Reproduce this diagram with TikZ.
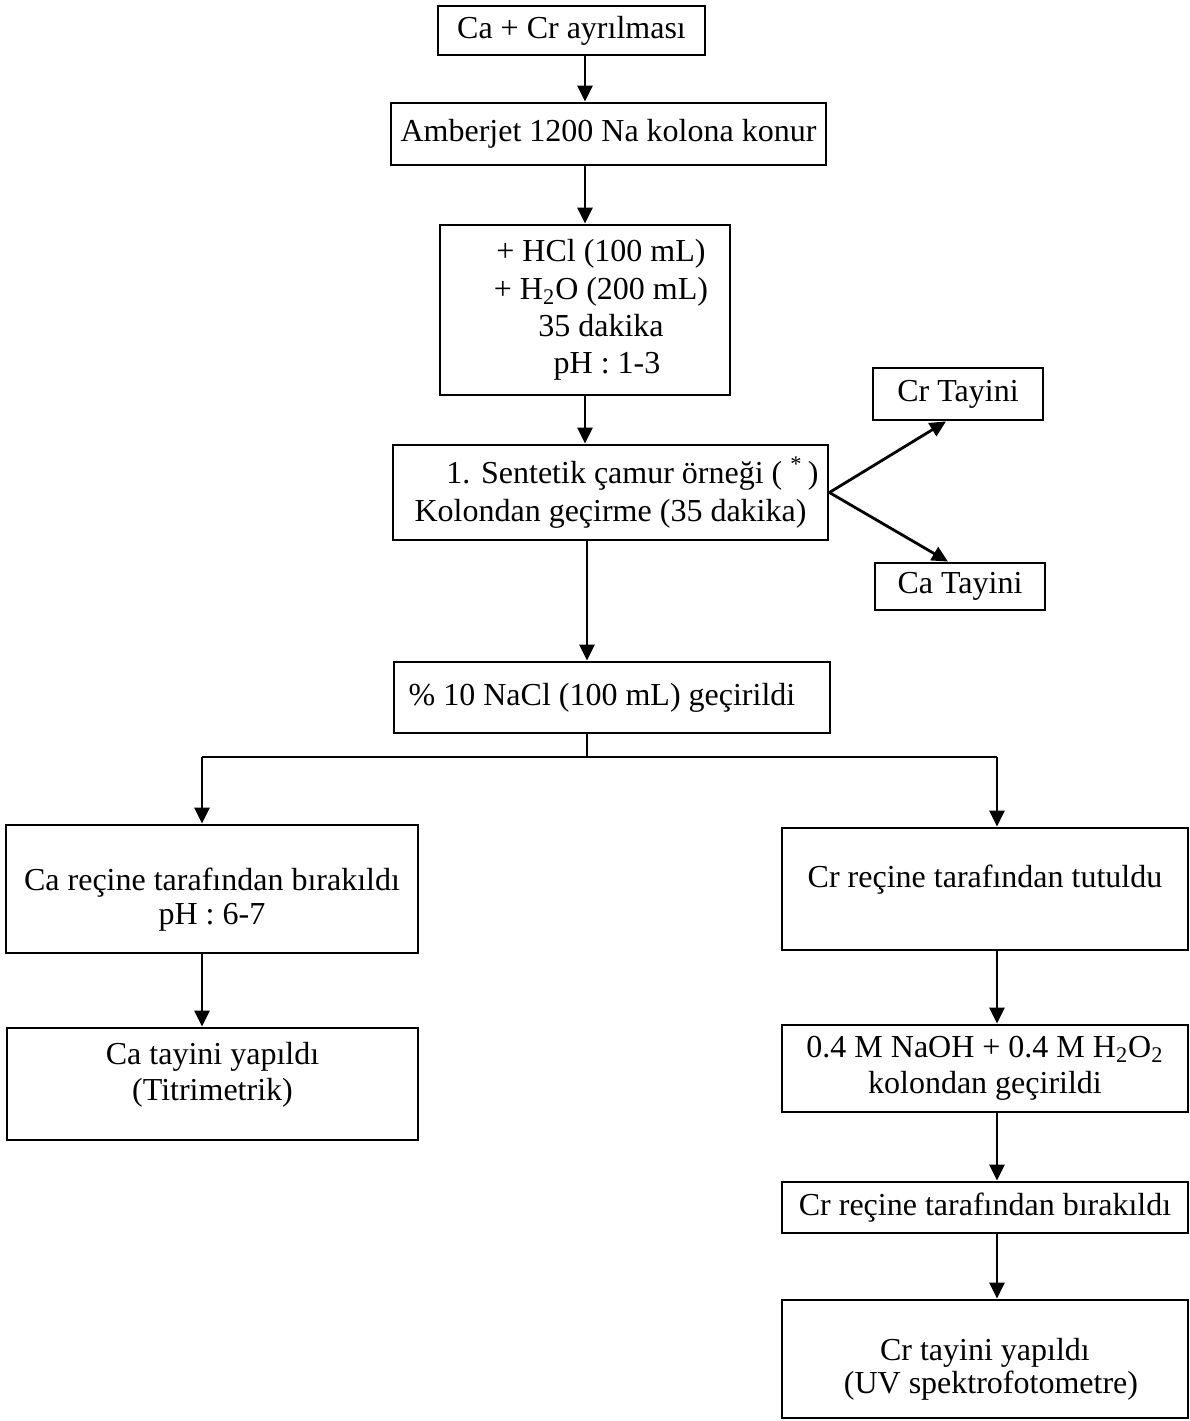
\documentclass[tikz,border=0pt]{standalone}
\usepackage{fontspec}
\setmainfont{Liberation Serif}
\usetikzlibrary{arrows.meta}

\begin{document}
\begin{tikzpicture}[x=0.5pt, y=-0.5pt,
  box/.style={draw, line width=1.4pt, align=center, inner sep=0pt,
    font=\fontsize{16}{18}\selectfont},
  arr/.style={line width=1.4pt, -{Triangle[length=8pt, width=7.5pt]}}]
\useasboundingbox (0,0) rectangle (1190,1421);

% main column
\node[box, minimum width=133.5pt, minimum height=24.5pt] (sep) at (571.5,30.5) {Ca + Cr ayrılması};
\node[box, minimum width=217.5pt, minimum height=31pt] (amb) at (608.5,134) {Amberjet 1200 Na kolona konur};
\node[box, minimum width=145pt, minimum height=85pt, font=\fontsize{16}{18.7}\selectfont] (hcl) at (585,310)
  {\hspace*{16pt}+ HCl (100 mL)\\\hspace*{16pt}+ H\textsubscript{2}O (200 mL)\\\hspace*{16pt}35 dakika\\\hspace*{22pt}pH : 1-3};
\node[box, minimum width=217.5pt, minimum height=47.5pt, font=\fontsize{16}{19}\selectfont] (sample) at (610.5,492.5)
  {\hspace*{22pt}1. Sentetik çamur örneği ( \textsuperscript{*}\,)\\Kolondan geçirme (35 dakika)};
\node[box, minimum width=85pt, minimum height=26pt] (crt) at (958,394) {Cr Tayini};
\node[box, minimum width=85pt, minimum height=23.5pt] (cat) at (960,586.5) {Ca Tayini};
\node[box, minimum width=218pt, minimum height=35.5pt] (nacl) at (612,697.5) {\% 10 NaCl (100 mL) geçirildi\hspace*{10pt}};

% left branch
\node[box, minimum width=206pt, minimum height=64pt, font=\fontsize{16}{17}\selectfont] (cares) at (212,889)
  {\rule{0pt}{22pt}Ca reçine tarafından bırakıldı\\pH : 6-7};
\node[box, minimum width=205.5pt, minimum height=56pt] (cadet) at (212.5,1084)
  {Ca tayini yapıldı\\(Titrimetrik)\rule[-12.5pt]{0pt}{12.5pt}};

% right branch
\node[box, minimum width=203pt, minimum height=61pt] (crres) at (985,889)
  {Cr reçine tarafından tutuldu\rule[-13pt]{0pt}{13pt}};
\node[box, minimum width=203pt, minimum height=43.5pt] (naoh) at (985,1068.5)
  {0.4 M NaOH + 0.4 M H\textsubscript{2}O\textsubscript{2}\\kolondan geçirildi};
\node[box, minimum width=203pt, minimum height=25.5pt] (crrel) at (985,1207.5) {Cr reçine tarafından bırakıldı};
\node[box, minimum width=203pt, minimum height=59pt, font=\fontsize{16}{16.5}\selectfont] (crdet) at (985,1359)
  {\rule{0pt}{21pt}Cr tayini yapıldı\\\hspace*{6pt}(UV spektrofotometre)};

\coordinate (split) at (587,757);
\coordinate (left) at (202,757);
\coordinate (right) at (997,757);

\draw[arr] (sep.south -| hcl) -- (amb.north -| hcl);
\draw[arr] (amb.south -| hcl) -- (hcl.north);
\draw[arr] (hcl.south) -- (sample.north -| hcl);
\draw[arr] (sample.east) -- ([xshift=-6pt]crt.south);
\draw[arr] (sample.east) -- ([xshift=-6pt]cat.north);
\draw[arr] (sample.south -| split) -- (nacl.north -| split);
\draw[line width=1.4pt] (nacl.south -| split) -- (split);
\draw[line width=1.4pt] (left) -- (right);
\draw[arr] (left) -- (left |- cares.north);
\draw[arr] (right) -- (right |- crres.north);
\draw[arr] (cares.south -| left) -- (cadet.north -| left);
\draw[arr] (crres.south -| right) -- (naoh.north -| right);
\draw[arr] (naoh.south -| right) -- (crrel.north -| right);
\draw[arr] (crrel.south -| right) -- (crdet.north -| right);
\end{tikzpicture}
\end{document}
